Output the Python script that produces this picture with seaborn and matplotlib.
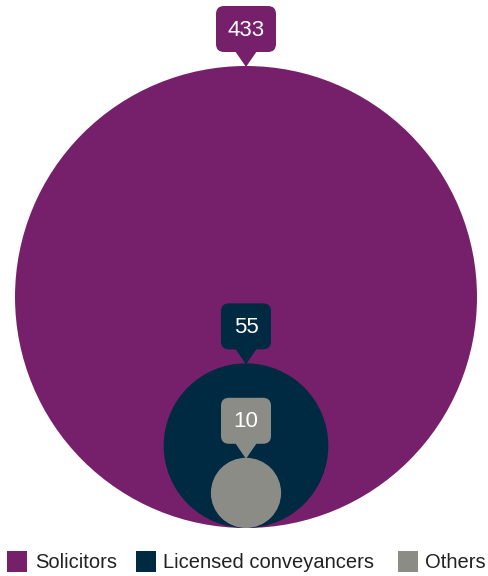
import numpy as np
import pandas as pd
import seaborn as sns
import matplotlib
matplotlib.use("Agg")
import matplotlib.pyplot as plt
from matplotlib.patches import FancyBboxPatch, Polygon, Rectangle

categories = ["Solicitors", "Licensed conveyancers", "Others"]
values = [433, 55, 10]
colors = ["#76206B", "#002942", "#8C8C87"]

sns.set_theme(style="white")
plt.rcParams['font.family'] = ['Liberation Sans', 'DejaVu Sans']

W, H, DPI = 488, 576, 100
fig = plt.figure(figsize=(W / DPI, H / DPI), dpi=DPI)
ax = fig.add_axes([0, 0, 1, 1])

# geometry (pixels): area proportional to value, bottoms aligned
R_MAX = 231.0
CX = 246.0
BOTTOM = 528.0
vmax = max(values)
radii = [R_MAX * np.sqrt(v / vmax) for v in values]

df = pd.DataFrame({
    "category": categories,
    "value": values,
    "x": [CX] * len(values),
    "y": [BOTTOM - r for r in radii],
})
# marker size in points^2 (diameter in points squared)
sizes = {c: (2 * r * 72.0 / DPI) ** 2 for c, r in zip(categories, radii)}
palette = dict(zip(categories, colors))

sns.scatterplot(data=df, x="x", y="y", hue="category", size="category",
                sizes=sizes, palette=palette, linewidth=0, edgecolor="none",
                legend=False, ax=ax, alpha=1)
ax.set_xlim(0, W)
ax.set_ylim(H, 0)
ax.axis("off")

# callouts
for cat, v, r, col in zip(categories, values, radii, colors):
    top = BOTTOM - 2 * r
    tri_h, box_h = 14, 46
    box_w = 60 if v >= 100 else 50
    ax.add_patch(Polygon([[CX - 11, top - tri_h - 1], [CX + 11, top - tri_h - 1], [CX, top + 1]],
                         closed=True, facecolor=col, edgecolor="none", zorder=5))
    ax.add_patch(FancyBboxPatch((CX - box_w / 2 + 8, top - tri_h - box_h + 8),
                                box_w - 16, box_h - 16,
                                boxstyle="round,pad=8", facecolor=col,
                                edgecolor="none", zorder=5))
    ax.text(CX, top - tri_h - box_h / 2 + 1, str(v), color="white", fontsize=16,
            ha="center", va="center", zorder=6)

# legend
leg = [(7, 35), (136, 163), (398, 425)]
for (sx, tx), cat, col in zip(leg, categories, colors):
    ax.add_patch(Rectangle((sx, 551), 20, 21, facecolor=col, edgecolor="none"))
    ax.text(tx, 562, cat, color="#222222", fontsize=14.5, ha="left", va="center")

fig.savefig("out.png", dpi=DPI, facecolor="white")
